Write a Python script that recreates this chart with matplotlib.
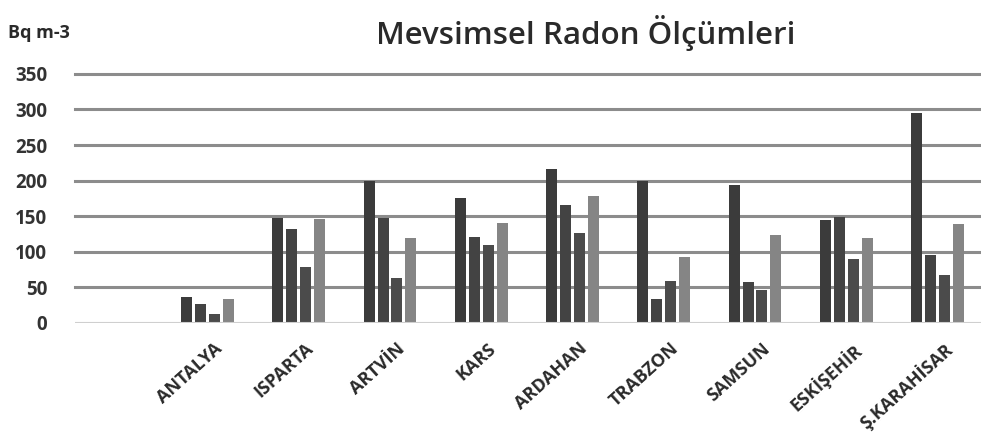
import numpy as np
import matplotlib.pyplot as plt
from matplotlib import transforms

# cities (first slot left empty, as in the original chart)
cities = ['', 'ANTALYA', 'ISPARTA', 'ARTVİN', 'KARS', 'ARDAHAN',
          'TRABZON', 'SAMSUN', 'ESKİŞEHİR', 'Ş.KARAHİSAR']

# seasonal radon values (Bq m-3)
season1 = [0, 36, 148, 200, 175, 216, 200, 194, 144, 295]
season2 = [0, 27, 132, 148, 121, 166, 34, 57, 149, 95]
season3 = [0, 13, 78, 63, 109, 127, 59, 47, 90, 67]
season4 = [0, 33, 146, 120, 141, 179, 93, 123, 120, 139]

yticks = [0, 50, 100, 150, 200, 250, 300, 350]

series = [season1, season2, season3, season4]
colors = ['#3b3b3b', '#434343', '#4b4b4b', '#858585']

plt.rcParams['font.family'] = ['Open Sans', 'DejaVu Sans']

fig = plt.figure(figsize=(9.81, 4.4), dpi=100)
ax = fig.add_axes([0.0765, 0.266, 0.9235, 0.566])

x = np.arange(len(cities))
step = 0.152
width = 0.12
for i, vals in enumerate(series):
    ax.bar(x + (i - 1.5) * step, vals, width, color=colors[i], zorder=3)

ax.set_xlim(-0.452, 9.477)
ax.set_ylim(0, 350)
ax.set_yticks(yticks)
for t in yticks[1:]:
    ax.axhline(t, color='#8c8c8c', lw=2.2, zorder=1, clip_on=False)
ax.axhline(0, color='#cfcfcf', lw=1.5, zorder=4)

for s in ax.spines.values():
    s.set_visible(False)

ax.tick_params(axis='y', length=0, pad=20, labelsize=13.5, labelcolor='#333333')
for lab in ax.get_yticklabels():
    lab.set_fontweight('bold')

ax.set_xticks(x)
ax.set_xticklabels(cities, rotation=42, ha='right', rotation_mode='anchor',
                   fontsize=13, fontweight='bold', color='#2a2a2a')
ax.tick_params(axis='x', length=0, pad=12)
off = transforms.ScaledTranslation(6 / 100, 0, fig.dpi_scale_trans)
for lab in ax.get_xticklabels():
    lab.set_transform(lab.get_transform() + off)

fig.text(0.597, 0.925, 'Mevsimsel Radon Ölçümleri', ha='center', va='center',
         fontsize=22.5, fontweight='semibold', color='#2a2a2a')
fig.text(0.008, 0.925, 'Bq m-3', ha='left', va='center', fontsize=13,
         fontweight='bold', color='#2a2a2a')

fig.savefig('out.png', dpi=100)
